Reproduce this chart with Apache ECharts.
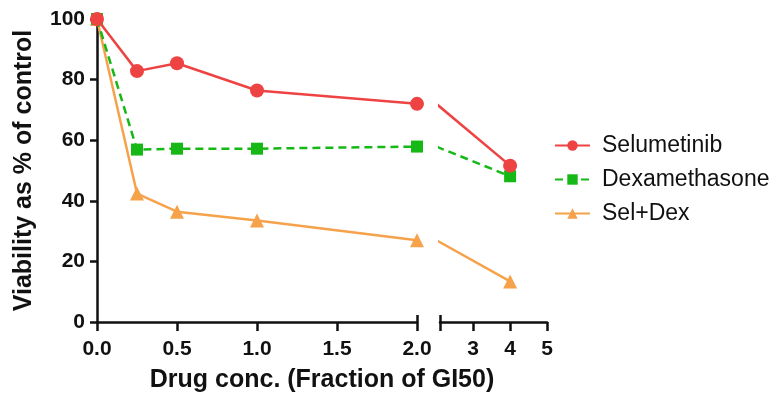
<!DOCTYPE html>
<html><head><meta charset="utf-8">
<script src="https://cdn.jsdelivr.net/npm/echarts@6/dist/echarts.min.js"></script>
<style>html,body{margin:0;padding:0;background:#fff}#c{width:779px;height:401px}</style>
</head><body><div id="c"></div>
<script>
var concLeft = [0, 0.25, 0.5, 1.0, 2.0];
var concRight = [2.0, 4];
var selumetinib = [100, 82.8, 85.4, 76.4, 72.0, 51.6];
var dexamethasone = [100, 56.9, 57.2, 57.2, 57.9, 48.1];
var selDex = [100, 42.4, 36.4, 33.5, 27.0, 13.4];
var yTicks = [0, 20, 40, 60, 80, 100];
var xTicksLeft = [0, 0.5, 1.0, 1.5, 2.0];
var xTicksRight = [3, 4, 5];

var names = ['Selumetinib', 'Dexamethasone', 'Sel+Dex'];
var colors = ['#EE4343', '#16B816', '#F5A24B'];
var symbols = ['circle', 'rect', 'triangle'];
var symSizes = [14, 12, 14];
var dashes = ['solid', [8, 5], 'solid'];
var allData = [selumetinib, dexamethasone, selDex];

var font = 'Liberation Sans, Arial, sans-serif';
var series = [];
allData.forEach(function (vals, i) {
  series.push({
    name: names[i], type: 'line', xAxisIndex: 0, yAxisIndex: 0,
    data: concLeft.map(function (x, j) { return [x, vals[j]]; }),
    symbol: symbols[i], symbolSize: symSizes[i], clip: false,
    itemStyle: { color: colors[i] },
    lineStyle: { color: colors[i], width: 2.5, type: dashes[i] },
    z: 3 - i
  });
});
allData.forEach(function (vals, i) {
  series.push({
    name: names[i], type: 'line', xAxisIndex: 1, yAxisIndex: 1,
    data: [
      { value: [concRight[0], vals[4]], symbol: 'none' },
      { value: [concRight[1], vals[5]] }
    ],
    symbol: symbols[i], symbolSize: symSizes[i], clip: true,
    itemStyle: { color: colors[i] },
    lineStyle: { color: colors[i], width: 2.5, type: dashes[i] },
    z: 3 - i
  });
});

var axisLine = { show: true, lineStyle: { color: '#111', width: 2.5 } };
var tickStyle = { color: '#111', width: 2.5 };
var labelStyle = { color: '#111', fontFamily: font, fontWeight: 'bold', fontSize: 21 };

var chart = echarts.init(document.getElementById('c'));
chart.setOption({
  animation: false,
  backgroundColor: '#fff',
  grid: [
    { left: 97, width: 320, top: 19, height: 303 },
    { left: 440, width: 107, top: 19, height: 303 }
  ],
  xAxis: [
    { type: 'value', gridIndex: 0, min: 0, max: 2, interval: 0.5, position: 'bottom',
      axisLine: axisLine, splitLine: { show: false },
      axisTick: { show: true, length: 9, lineStyle: tickStyle },
      axisLabel: Object.assign({ margin: 17, customValues: xTicksLeft,
        formatter: function (v) { return v.toFixed(1); } }, labelStyle) },
    { type: 'value', gridIndex: 1, min: 2.1, max: 5, position: 'bottom',
      axisLine: axisLine, splitLine: { show: false },
      axisTick: { show: true, length: 9, customValues: [2.1].concat(xTicksRight), lineStyle: tickStyle },
      axisLabel: Object.assign({ margin: 17, customValues: xTicksRight }, labelStyle) },
    { type: 'value', gridIndex: 0, min: 0, max: 2, position: 'bottom',
      axisLine: { show: false }, splitLine: { show: false }, axisLabel: { show: false },
      axisTick: { show: true, inside: true, length: 7, customValues: [2], lineStyle: tickStyle } },
    { type: 'value', gridIndex: 1, min: 2.1, max: 5, position: 'bottom',
      axisLine: { show: false }, splitLine: { show: false }, axisLabel: { show: false },
      axisTick: { show: true, inside: true, length: 7, customValues: [2.1], lineStyle: tickStyle } }
  ],
  yAxis: [
    { type: 'value', gridIndex: 0, min: 0, max: 100, interval: 20,
      axisLine: axisLine, splitLine: { show: false },
      axisTick: { show: true, length: 7, lineStyle: tickStyle },
      axisLabel: Object.assign({ margin: 12, customValues: yTicks }, labelStyle),
      name: 'Viability as % of control', nameLocation: 'middle', nameGap: 60, nameRotate: 90,
      nameTextStyle: { color: '#111', fontFamily: font, fontWeight: 'bold', fontSize: 25 } },
    { type: 'value', gridIndex: 1, min: 0, max: 100, show: false }
  ],
  legend: {
    orient: 'vertical', left: 549, top: 129, itemGap: 11,
    itemWidth: 35, itemHeight: 13,
    data: names,
    textStyle: { color: '#111', fontFamily: font, fontSize: 23, padding: [0, 0, 0, 7] }
  },
  graphic: [{
    type: 'text', x: 322, y: 380,
    style: { text: 'Drug conc. (Fraction of GI50)', fill: '#111', font: 'bold 25px ' + font,
      textAlign: 'center', textVerticalAlign: 'middle' }
  }],
  series: series
});
</script></body></html>
